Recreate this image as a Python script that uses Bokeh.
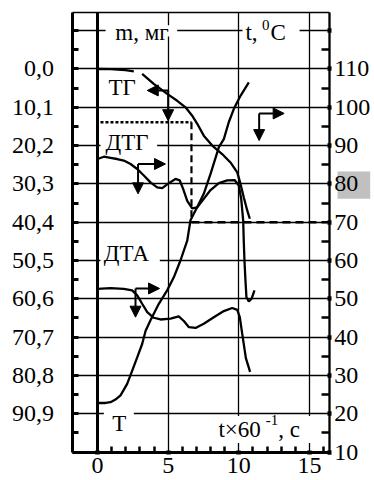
from bokeh.plotting import figure
from bokeh.models import (Range1d, LinearAxis, FixedTicker, Label, Grid,
                          BoxAnnotation, Arrow, NormalHead)
from bokeh.embed import file_html
from bokeh.resources import INLINE

NAN = float("nan")
FONT = "Liberation Serif"

# ---------------- data ----------------
TIME_MAJOR = [0, 5, 10, 15]
TIME_MINOR = [1, 2, 3, 4, 6, 7, 8, 9, 11, 12, 13, 14, 16]
TIME_GRID = [5, 10, 15]

TEMP_MAJOR = [10, 20, 30, 40, 50, 60, 70, 80, 90, 100, 110, 120]
TEMP_MINOR = [15, 25, 35, 45, 55, 65, 75, 85, 95, 105, 115]
TEMP_GRID = [20, 30, 40, 50, 60, 70, 80, 90, 100, 110, 120]
TEMP_LABELS = ["10", "20", "30", "40", "50", "60", "70", "80", "90", "100", "110", ""]
HIGHLIGHT_TEMP = 80

MASS_AT_TEMP = [110, 100, 90, 80, 70, 60, 50, 40, 30, 20]
MASS_LABELS = ["0,0", "10,1", "20,2", "30,3", "40,4", "50,5", "60,6", "70,7", "80,8", "90,9"]

# TG (mass) curve
TG_X = [0, 0.92, 1.98, 2.57, NAN, 3.16, 3.98, 4.93, 5.64, 6.23, 6.70, 7.06, 7.52,
        8.12, 8.82, 9.41, 9.89, 10.12, 10.35, 10.6, 10.78]
TG_Y = [110, 109.95, 109.7, 109.4, NAN, 108.7, 106.1, 103.5, 101.7, 100.0, 97.8, 95.7, 92.6,
        90.0, 87.8, 85.6, 83.0, 80.0, 76.5, 73.0, 70.9]

# T (temperature) curve
T_X = [0, 0.57, 0.92, 1.27, 1.63, 2.10, 2.45, 2.81, 3.16, 3.40, 3.75, 4.34, 4.93, 5.40,
       5.87, 6.35, 6.58, 7.05, 7.52, 8.00, 8.59, 8.94, 9.29, 9.65, 10.12, 10.71]
T_Y = [22.8, 22.8, 23.0, 23.7, 24.8, 27.8, 31.2, 34.7, 38.2, 41.6, 44.4, 48.7, 52.2, 55.6,
       60.0, 65.2, 70.5, 73.9, 77.4, 82.6, 89.6, 91.7, 96.1, 99.6, 103.0, 106.5]

# DTG curve
DTG_X = [0, 0.45, 0.92, 1.39, 1.86, 2.34, 2.81, 3.28, 3.75, 4.22, 4.58, 5.05, 5.52, 5.82,
         6.06, 6.35, 6.70, 7.06, 7.52, 8.00, 8.59, 9.18, 9.70, 10.0, 10.17, 10.31, 10.35,
         10.4, 10.47, 10.54, 10.71, 10.9, 11.11]
DTG_Y = [86.5, 87.1, 86.8, 86.5, 86.1, 85.2, 83.9, 82.2, 80.4, 79.1, 78.9, 80.2, 81.3, 80.9,
         78.7, 75.6, 73.6, 73.9, 76.1, 78.4, 80.2, 80.9, 81.0, 79.6, 76.1, 70.4, 65.2,
         60.0, 54.8, 50.4, 49.3, 50.0, 52.2]

# DTA curve
DTA_X = [0, 0.92, 1.86, 2.45, 2.81, 3.16, 3.52, 3.98, 4.46, 5.17, 5.75, 6.11, 6.47, 6.94,
         7.52, 8.23, 8.94, 9.53, 9.89, 10.07, 10.24, 10.5, 10.8]
DTA_Y = [52.6, 52.8, 52.6, 52.2, 50.9, 48.7, 46.5, 45.05, 44.6, 44.8, 45.4, 44.2, 42.6, 42.4,
         43.5, 45.2, 46.8, 47.6, 47.1, 45.2, 40.9, 34.5, 30.9]

# read-off construction lines
DOT_LEVEL = 96.1
DOT_START = 0.21
DASH_TIME = 6.65
DASH_LEVEL = 70.0

# bent arrows: (corner x, corner y, horizontal tip x, vertical tip y)
BENT_ARROWS = [
    (5.0, 104.4, 3.52, 96.5),
    (11.44, 98.4, 13.21, 91.3),
    (2.87, 85.2, 4.81, 77.4),
    (2.69, 52.7, 4.39, 45.2),
]

# axes placement (data units) and full-canvas ranges
X_LEFT, X_RIGHT = -1.8, 16.4
T_BOTTOM, T_TOP = 10, 124.83

p = figure(width=374, height=480, output_backend="svg", toolbar_location=None,
           x_range=Range1d(-6.865, 19.603), y_range=Range1d(2.559, 127.885),
           min_border_left=0, min_border_right=0, min_border_top=0,
           min_border_bottom=0)
p.background_fill_color = "white"
p.border_fill_color = "white"
p.outline_line_color = None

# grids (limited to the plot box)
p.xgrid.ticker = FixedTicker(ticks=TIME_GRID)
p.xgrid.cross_bounds = (T_BOTTOM, T_TOP)
p.ygrid.ticker = FixedTicker(ticks=TEMP_GRID + [T_TOP])
p.ygrid.cross_bounds = (X_LEFT, X_RIGHT)
for g in (p.xgrid, p.ygrid):
    g.grid_line_color = "black"
    g.grid_line_width = 1.3
zero_line = Grid(dimension=0, ticker=FixedTicker(ticks=[0]), cross_bounds=(T_BOTTOM, T_TOP),
                 grid_line_color="black", grid_line_width=3)
p.add_layout(zero_line)

# left axis (mass)
left = p.yaxis[0]
left.fixed_location = X_LEFT
left.bounds = (T_BOTTOM, T_TOP)
left.ticker = FixedTicker(ticks=TEMP_MAJOR, minor_ticks=TEMP_MINOR)
ov = {t: "" for t in TEMP_MAJOR}
ov.update({t: s for t, s in zip(MASS_AT_TEMP, MASS_LABELS)})
left.major_label_overrides = ov
left.axis_line_width = 3
left.major_tick_in = 6
left.major_tick_out = 0
left.major_tick_line_width = 3
left.minor_tick_in = 6
left.minor_tick_out = 0
left.minor_tick_line_width = 3
left.major_label_standoff = 18

# right axis (temperature)
right = LinearAxis(ticker=FixedTicker(ticks=TEMP_MAJOR, minor_ticks=TEMP_MINOR),
                   fixed_location=X_RIGHT, bounds=(T_BOTTOM, T_TOP))
right.major_label_overrides = {t: s for t, s in zip(TEMP_MAJOR, TEMP_LABELS)}
right.axis_line_width = 2.3
right.major_tick_in = 2
right.major_tick_out = 2
right.major_tick_line_width = 4.5
right.minor_tick_in = 8
right.minor_tick_out = 0
right.minor_tick_line_width = 2.5
right.major_label_standoff = 3
p.add_layout(right, "right")

# bottom axis (time)
bottom = p.xaxis[0]
bottom.fixed_location = T_BOTTOM
bottom.bounds = (X_LEFT, X_RIGHT)
bottom.ticker = FixedTicker(ticks=TIME_MAJOR, minor_ticks=TIME_MINOR)
bottom.axis_line_width = 3
bottom.major_tick_in = 2
bottom.major_tick_out = 2
bottom.major_tick_line_width = 4.5
bottom.minor_tick_in = 6
bottom.minor_tick_out = 0
bottom.minor_tick_line_width = 2.5
bottom.major_label_standoff = 4

for ax in (left, right, bottom):
    ax.axis_line_color = "black"
    ax.major_tick_line_color = "black"
    ax.minor_tick_line_color = "black"
    ax.major_label_text_font = FONT
    ax.major_label_text_font_size = "24px"
    ax.major_label_text_color = "black"

# grey highlight behind the "80" tick label
p.add_layout(BoxAnnotation(left=16.99, right=19.30, bottom=76.11, top=83.24,
                           fill_color="#c0c0c0", fill_alpha=1, line_alpha=0,
                           level="underlay"))

# curves
for xs, ys in ((TG_X, TG_Y), (T_X, T_Y), (DTG_X, DTG_Y), (DTA_X, DTA_Y)):
    p.line(xs, ys, line_color="black", line_width=2.3)

# construction lines
p.line([DOT_START, DASH_TIME], [DOT_LEVEL, DOT_LEVEL], line_color="black",
       line_width=2.6, line_dash="3 2")
p.line([DASH_TIME, DASH_TIME], [DOT_LEVEL, DASH_LEVEL], line_color="black",
       line_width=2.2, line_dash="7 4")
p.line([DASH_TIME, X_RIGHT], [DASH_LEVEL, DASH_LEVEL], line_color="black",
       line_width=2.6, line_dash="8 5")

# bent arrows
for cx, cy, hx, vy in BENT_ARROWS:
    for ex, ey in ((hx, cy), (cx, vy)):
        p.add_layout(Arrow(end=NormalHead(size=11, fill_color="black", line_color="black",
                                          line_width=1),
                           x_start=cx, y_start=cy, x_end=ex, y_end=ey,
                           line_color="black", line_width=2))

# white boxes behind labels sitting on grid lines
for l, r, b, t in ((0.57, 5.64, 118.5, 121.4),
                   (10.26, 14.30, 118.5, 121.4),
                   (0.21, 4.22, 88.5, 91.3),
                   (0.21, 4.41, 58.6, 61.3),
                   (0.45, 2.57, 18.6, 21.2),
                   (8.35, 15.22, 12.35, 19.4)):
    p.add_layout(BoxAnnotation(left=l, right=r, bottom=b, top=t, fill_color="white",
                               fill_alpha=1, line_alpha=0))

UP = 2.4


def lab(x, y, text, size="23px", align="left"):
    p.add_layout(Label(x=x, y=y + UP, text=text, text_font=FONT, text_font_size=size,
                       text_align=align, text_baseline="alphabetic", text_color="black"))


lab(3.15, 117.0, "m, мг", align="center")
lab(10.47, 117.2, "t,")
lab(11.64, 119.2, "0", size="15px")
lab(12.24, 117.2, "C")
lab(0.78, 102.7, "ТГ")
lab(0.57, 88.3, "ДТГ")
lab(0.45, 59.5, "ДТА")
lab(1.04, 15.05, "T")
lab(8.56, 13.4, "t×60")
lab(11.9, 16.0, "-1", size="15px")
lab(12.8, 13.4, ", c")

open("out.html", "w").write(file_html(p, INLINE))
